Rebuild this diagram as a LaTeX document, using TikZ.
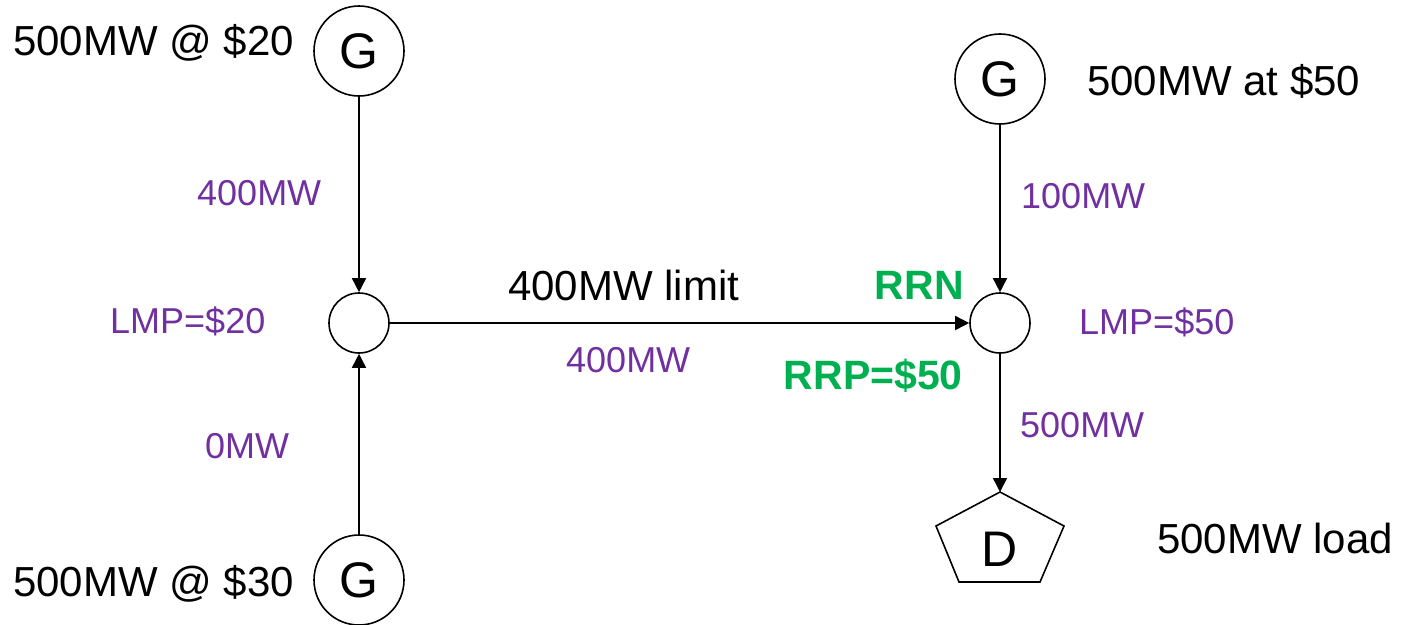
\documentclass[tikz,border=0pt]{standalone}
\usepackage{fontspec}
\setmainfont{Liberation Sans}
\usetikzlibrary{arrows.meta}
\definecolor{lmppurple}{HTML}{7030A0}
\definecolor{rrngreen}{HTML}{00B050}
\begin{document}
\begin{tikzpicture}[x=1pt,y=-1pt,
  gen/.style={circle,draw,line width=1.6pt,minimum size=90pt,inner sep=0pt,font=\fontsize{50}{50}\selectfont},
  bus/.style={circle,draw,line width=1.6pt,minimum size=60pt,inner sep=0pt},
  flow/.style={line width=1.6pt,-{Triangle[length=14pt,width=14pt]}},
  blk/.style={inner sep=0pt,font=\fontsize{42}{42}\selectfont},
  pur/.style={inner sep=0pt,text=lmppurple,font=\fontsize{36}{36}\selectfont},
  grn/.style={inner sep=0pt,text=rrngreen,font=\fontsize{41}{41}\selectfont\bfseries}]
\useasboundingbox (0,0) rectangle (1403,624);
% nodes
\node[gen] (g1) at (359,51) {G};
\node[bus] (b1) at (359,323) {};
\node[gen] (g2) at (359,580) {G};
\node[gen] (g3) at (1000,79) {G};
\node[bus] (b2) at (1000,323) {};
\draw[line width=1.6pt,line join=miter] (1000,492) -- (1064,526) -- (1040,582) -- (959,582) -- (936,526) -- cycle;
\coordinate (dtop) at (1000,492);
\node[inner sep=0pt,font=\fontsize{50}{50}\selectfont] (load) at (1000,549.5) {D};
% connectors
\draw[flow] (g1) -- (b1);
\draw[flow] (g2) -- (b1);
\draw[flow] (b1) -- (b2);
\draw[flow] (g3) -- (b2);
\draw[flow] (b2) -- (dtop);
% labels
\node[blk,anchor=base west] (t1) at (13,55) {500MW @ \$20};
\node[blk,anchor=base west] (t2) at (13,596) {500MW @ \$30};
\node[blk,anchor=base west] (t3) at (1087,95) {500MW at \$50};
\node[blk,anchor=base west] (t4) at (1157,553) {500MW load};
\node[blk,anchor=base west] (t5) at (508,300) {400MW limit};
\node[pur,anchor=base west] (p1) at (197,205) {400MW};
\node[pur,anchor=base west] (p2) at (110,333) {LMP=\$20};
\node[pur,anchor=base west] (p3) at (205,458) {0MW};
\node[pur,anchor=base west] (p4) at (566,372) {400MW};
\node[pur,anchor=base west] (p5) at (1021,208) {100MW};
\node[pur,anchor=base west] (p6) at (1079,334) {LMP=\$50};
\node[pur,anchor=base west] (p7) at (1020,437) {500MW};
\node[grn,anchor=base east] (r1) at (964,299) {RRN};
\node[grn,anchor=base east] (r2) at (963,389) {RRP=\$50};
\end{tikzpicture}
\end{document}
